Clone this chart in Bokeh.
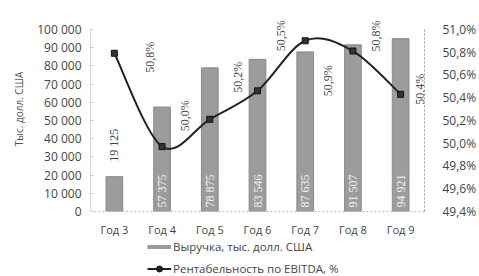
import math
from bokeh.plotting import figure
from bokeh.layouts import column
from bokeh.models import (Range1d, LinearAxis, FixedTicker, Legend, LegendItem,
                          ColumnDataSource, LabelSet)
from bokeh.embed import file_html
from bokeh.resources import INLINE

# ---- data ----
years = ["Год 3", "Год 4", "Год 5", "Год 6", "Год 7", "Год 8", "Год 9"]
revenue = [19125, 57375, 78875, 83546, 87635, 91507, 94921]
margin_pct = [50.79, 49.97, 50.21, 50.46, 50.90, 50.81, 50.43]
left_ticks = [0, 10000, 20000, 30000, 40000, 50000, 60000, 70000, 80000, 90000, 100000]
right_ticks = [49.4, 49.6, 49.8, 50.0, 50.2, 50.4, 50.6, 50.8, 51.0]
bar_name = "Выручка, тыс. долл. США"
line_name = "Рентабельность по EBITDA, %"
y_title = "Тыс. долл. США"

# ---- style / layout (screen px) ----
pct_dx = [36, 23, 28, 24, 23, 23, 19]
pct_dy = [-4, 31, 42, 55, -40, 15, 5]
W = 479
MAIN_H = 239
LEG_H = 37
FRAME_TOP = 6          # frame starts here (room for labels above the axes)
AXIS_TOP = 29          # where the top tick sits
AXIS_BOTTOM = 212      # where the zero sits

FONT = "Open Sans"
TXT = "#454545"

idx = list(range(len(years)))

def fmt_thousands(v):
    return f"{v:,}".replace(",", " ")

def fmt_pct(v):
    return f"{v:.1f}".replace(".", ",") + "%"

stretch = (AXIS_BOTTOM - FRAME_TOP) / (AXIS_BOTTOM - AXIS_TOP)
l0, l1 = left_ticks[0], left_ticks[-1]
r0, r1 = right_ticks[0], right_ticks[-1]

p = figure(width=W, height=MAIN_H, output_backend="svg", toolbar_location=None,
           x_range=Range1d(-0.5, len(years) - 0.5),
           y_range=Range1d(l0, l0 + (l1 - l0) * stretch),
           min_border_left=90, min_border_right=53, min_border_top=FRAME_TOP,
           min_border_bottom=MAIN_H - AXIS_BOTTOM)
p.extra_y_ranges = {"pct": Range1d(r0, r0 + (r1 - r0) * stretch)}
p.outline_line_color = None
p.grid.visible = False
p.background_fill_color = "white"
p.border_fill_color = "white"

# x axis
p.xaxis.ticker = FixedTicker(ticks=idx)
p.xaxis.major_label_overrides = {i: y for i, y in zip(idx, years)}
p.xaxis.major_tick_line_color = None
p.xaxis.minor_tick_line_color = None
p.xaxis.axis_line_color = "#bbbbbb"
p.xaxis.axis_line_dash = "2 2"
p.xaxis.major_label_text_font = FONT
p.xaxis.major_label_text_font_size = "11px"
p.xaxis.major_label_text_color = TXT
p.xaxis.major_label_standoff = 4

# left axis
p.yaxis.ticker = FixedTicker(ticks=left_ticks)
p.yaxis.bounds = (l0, l1)
p.yaxis.major_label_overrides = {t: fmt_thousands(t) for t in left_ticks}
p.yaxis.minor_tick_line_color = None
p.yaxis.major_tick_in = 3
p.yaxis.major_tick_out = 0
p.yaxis.major_tick_line_color = "#c8c8c8"
p.yaxis.axis_line_color = "#d8d8d8"
p.yaxis.major_label_text_font = FONT
p.yaxis.major_label_text_font_size = "12px"
p.yaxis.major_label_text_color = TXT
p.yaxis.major_label_standoff = 9
p.yaxis.axis_label = y_title
p.yaxis.axis_label_text_font = FONT
p.yaxis.axis_label_text_font_size = "10px"
p.yaxis.axis_label_text_font_style = "normal"
p.yaxis.axis_label_text_color = "#555555"
p.yaxis.axis_label_standoff = 8

# right axis
ra = LinearAxis(y_range_name="pct", ticker=FixedTicker(ticks=right_ticks),
                bounds=(r0, r1))
ra.major_label_overrides = {t: fmt_pct(t) for t in right_ticks}
ra.minor_tick_line_color = None
ra.major_tick_line_color = None
ra.axis_line_color = "#999999"
ra.axis_line_dash = "2 2"
ra.major_label_text_font = FONT
ra.major_label_text_font_size = "12px"
ra.major_label_text_color = TXT
ra.major_label_standoff = 12
p.add_layout(ra, "right")

# bars
bar_src = ColumnDataSource(dict(x=idx, top=revenue))
p.vbar(x="x", top="top", width=0.35, source=bar_src, fill_color="#9c9c9c",
       line_color="#8a8a8a", line_width=1)

inside = [v >= 30000 for v in revenue]
in_src = ColumnDataSource(dict(x=[i for i, k in zip(idx, inside) if k],
                               y=[0 for k in inside if k],
                               lab=[fmt_thousands(v) for v, k in zip(revenue, inside) if k]))
p.add_layout(LabelSet(x="x", y="y", text="lab", source=in_src, angle=math.pi / 2,
                      text_align="left", text_baseline="middle", y_offset=4,
                      text_font=FONT, text_font_size="12px", text_color="#f4f4f4"))
out_src = ColumnDataSource(dict(x=[i for i, k in zip(idx, inside) if not k],
                                y=[v for v, k in zip(revenue, inside) if not k],
                                lab=[fmt_thousands(v) for v, k in zip(revenue, inside) if not k]))
p.add_layout(LabelSet(x="x", y="y", text="lab", source=out_src, angle=math.pi / 2,
                      text_align="left", text_baseline="middle", y_offset=15,
                      text_font=FONT, text_font_size="12px", text_color=TXT))

# smoothed line (Catmull-Rom -> cubic Bezier through the data points)
n = len(idx)
bz = dict(x0=[], y0=[], x1=[], y1=[], cx0=[], cy0=[], cx1=[], cy1=[])
for i in range(n - 1):
    i0, i3 = max(i - 1, 0), min(i + 2, n - 1)
    x0, y0 = idx[i0], margin_pct[i0]
    x1, y1 = idx[i], margin_pct[i]
    x2, y2 = idx[i + 1], margin_pct[i + 1]
    x3, y3 = idx[i3], margin_pct[i3]
    bz["x0"].append(x1); bz["y0"].append(y1)
    bz["x1"].append(x2); bz["y1"].append(y2)
    bz["cx0"].append(x1 + (x2 - x0) / 6); bz["cy0"].append(y1 + (y2 - y0) / 6)
    bz["cx1"].append(x2 - (x3 - x1) / 6); bz["cy1"].append(y2 - (y3 - y1) / 6)
p.bezier(x0="x0", y0="y0", x1="x1", y1="y1", cx0="cx0", cy0="cy0",
         cx1="cx1", cy1="cy1", source=ColumnDataSource(bz), y_range_name="pct",
         line_color="#222222", line_width=2)
p.scatter(x=idx, y=margin_pct, y_range_name="pct", marker="square",
          size=6, fill_color="#333333", line_color="#111111")

pct_src = ColumnDataSource(dict(x=idx, y=margin_pct,
                                lab=[fmt_pct(v) for v in margin_pct],
                                dx=pct_dx, dy=pct_dy))
p.add_layout(LabelSet(x="x", y="y", text="lab", source=pct_src, y_range_name="pct",
                      angle=math.pi / 2, x_offset="dx", y_offset="dy",
                      text_align="center", text_baseline="middle",
                      text_font=FONT, text_font_size="12px", text_color=TXT))

# ---- legend strip (separate figure below; frame aligned with main frame) ----
lg = figure(width=W, height=LEG_H, output_backend="svg", toolbar_location=None,
            x_range=Range1d(0, 1), y_range=Range1d(0, 1),
            min_border_left=0, min_border_right=0, min_border_top=0,
            min_border_bottom=0)
lg.axis.visible = False
lg.grid.visible = False
lg.outline_line_color = None
lg.border_fill_color = "white"
# hidden proxy renderers (one data point each) used only for legend swatches
proxy = ColumnDataSource(dict(x=[idx[0]], y=[revenue[0]]))
leg_bar = lg.line(x="x", y="y", source=proxy, line_color="#9a9a9a", line_width=4)
leg_line = lg.line(x="x", y="y", source=proxy, line_color="#222222", line_width=2)
leg_pt = lg.scatter(x="x", y="y", source=proxy, marker="circle", size=4,
                    fill_color="#222222", line_color="#111111")
for r in (leg_bar, leg_line, leg_pt):
    r.visible = False
legend = Legend(items=[LegendItem(label=bar_name, renderers=[leg_bar]),
                       LegendItem(label=line_name, renderers=[leg_line, leg_pt])],
                location=(57, 0), orientation="vertical",
                background_fill_alpha=0, border_line_color=None,
                padding=0, margin=0, spacing=7, label_height=15,
                glyph_height=15, glyph_width=24, label_standoff=2,
                label_text_font=FONT, label_text_font_size="11.5px",
                label_text_color=TXT)
lg.add_layout(legend, "center")

layout = column(p, lg, spacing=0)
open("out.html", "w").write(file_html(layout, INLINE))
